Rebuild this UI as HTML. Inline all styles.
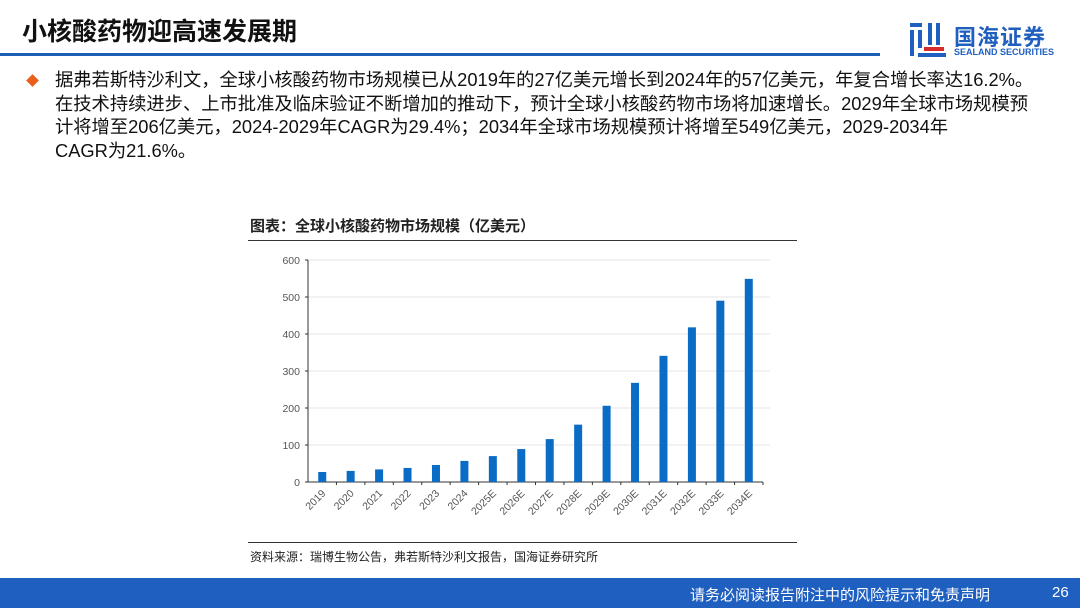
<!DOCTYPE html>
<html><head><meta charset="utf-8"><style>
body{margin:0;width:1080px;height:608px;background:#fff;position:relative;overflow:hidden;font-family:"Liberation Sans","Noto Sans CJK SC",sans-serif}
.abs{position:absolute}
</style></head><body>
<div class="abs" style="left:22px;top:12px;font-size:25px;font-weight:bold;color:#111">小核酸药物迎高速发展期</div>
<div class="abs" style="left:0;top:53px;width:880px;height:3px;background:#1a5fb4"></div>
<div class="abs" style="left:908px;top:20px;width:170px;height:40px">
<svg width="40" height="40" style="position:absolute;left:0;top:0"><rect x="2" y="3" width="12" height="4" fill="#1f5fbf"/><rect x="2" y="10" width="4" height="26" fill="#1f5fbf"/><rect x="10" y="10" width="4" height="18" fill="#1f5fbf"/><rect x="20" y="3" width="4" height="22" fill="#1f5fbf"/><rect x="28" y="3" width="4" height="22" fill="#1f5fbf"/><rect x="16" y="27" width="20" height="4" fill="#d62b2b"/><rect x="10" y="33" width="28" height="4" fill="#1f5fbf"/></svg>
<div class="abs" style="left:46px;top:0;font-size:22px;font-weight:bold;color:#1f5fbf;letter-spacing:1px">国海证券</div>
<div class="abs" style="left:46px;top:27px;font-size:9px;font-weight:bold;color:#1f5fbf">SEALAND SECURITIES</div>
</div>
<div class="abs" style="left:28px;top:76px;width:9px;height:9px;background:#e8601c;transform:rotate(45deg)"></div>
<div class="abs" style="left:55px;top:68px;font-size:18.3px;line-height:23.5px;color:#111;white-space:nowrap">据弗若斯特沙利文，全球小核酸药物市场规模已从2019年的27亿美元增长到2024年的57亿美元，年复合增长率达16.2%。<br>在技术持续进步、上市批准及临床验证不断增加的推动下，预计全球小核酸药物市场将加速增长。2029年全球市场规模预<br>计将增至206亿美元，2024-2029年CAGR为29.4%；2034年全球市场规模预计将增至549亿美元，2029-2034年<br>CAGR为21.6%。</div>
<div class="abs" style="left:250px;top:215px;font-size:15px;font-weight:bold;color:#222">图表：全球小核酸药物市场规模（亿美元）</div>
<div class="abs" style="left:248px;top:240px;width:549px;height:1px;background:#333"></div>
<svg id="chart" class="abs" style="left:0;top:0" width="1080" height="608"></svg>
<div class="abs" style="left:248px;top:542px;width:549px;height:1px;background:#333"></div>
<div class="abs" style="left:250px;top:548px;font-size:12px;color:#222">资料来源：瑞博生物公告，弗若斯特沙利文报告，国海证券研究所</div>
<div class="abs" style="left:0;top:578px;width:1080px;height:30px;background:#1f5fbf"></div>
<div class="abs" style="left:690px;top:584px;font-size:15px;color:#fff">请务必阅读报告附注中的风险提示和免责声明</div>
<div class="abs" style="left:1052px;top:584px;font-size:15px;color:#fff">26</div>
<script>
const categories=["2019","2020","2021","2022","2023","2024","2025E","2026E","2027E","2028E","2029E","2030E","2031E","2032E","2033E","2034E"];
const values=[27,30,34,38,46,57,70,89,116,155,206,268,341,418,490,549];
const yTicks=[0,100,200,300,400,500,600];
const svg=document.getElementById('chart');const NS="http://www.w3.org/2000/svg";
const x0=308,x1=763,y0=482,y1=260,ymax=600;
const bw=(x1-x0)/categories.length;
const ys=v=>y0-(v/ymax)*(y0-y1);
const xs=i=>x0+bw*(i+0.5);
function mk(t,a){const e=document.createElementNS(NS,t);for(const k in a)e.setAttribute(k,a[k]);svg.appendChild(e);return e;}
yTicks.forEach(t=>{
 if(t>0){const g=mk('line',{x1:x0,x2:770,y1:ys(t),y2:ys(t),stroke:'#e6e6e6','stroke-width':1});
 
 }
 const l=mk('text',{x:x0-8,y:ys(t)+4,'text-anchor':'end','font-size':10.5,fill:'#555','font-family':'Liberation Sans'});l.textContent=t;
 
 
 mk('line',{x1:x0-3,x2:x0,y1:ys(t),y2:ys(t),stroke:'#333'});
});
mk('line',{x1:x0,x2:x0,y1:y1,y2:y0,stroke:'#333','stroke-width':1});
mk('line',{x1:x0,x2:x1,y1:y0,y2:y0,stroke:'#333','stroke-width':1});
categories.forEach((c,i)=>{
 const b=mk('rect',{x:xs(i)-4,y:ys(values[i]),width:8,height:y0-ys(values[i]),fill:'#0a6cc4'});
 
 
 mk('line',{x1:x0+bw*(i+1),x2:x0+bw*(i+1),y1:y0,y2:y0+3,stroke:'#333'});
 const t=mk('text',{x:xs(i)+4,y:y0+12,'text-anchor':'end','font-size':10.5,fill:'#555','font-family':'Liberation Sans',transform:`rotate(-45 ${xs(i)+4} ${y0+12})`});
 t.textContent=c;
 
 
});
</script>
</body></html>
